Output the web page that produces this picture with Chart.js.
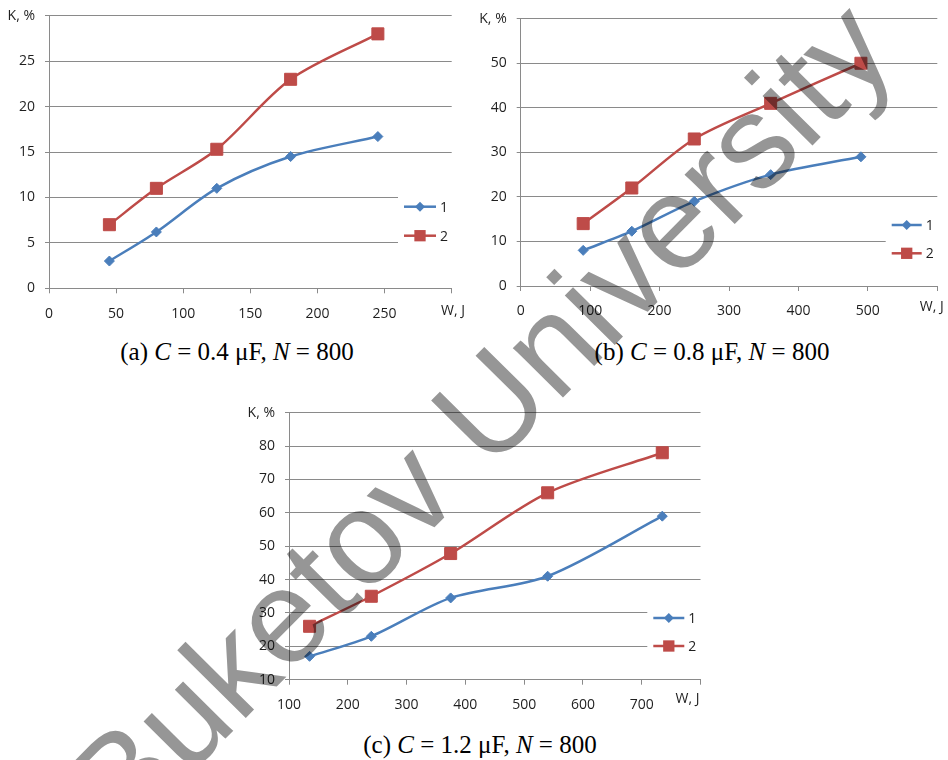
<!DOCTYPE html>
<html>
<head>
<meta charset="utf-8">
<script src="https://cdn.jsdelivr.net/npm/chart.js@4.4.1/dist/chart.umd.min.js"></script>
<style>
html,body{margin:0;padding:0;background:#fff;}
body{width:948px;height:760px;position:relative;overflow:hidden;}
canvas.chart{position:absolute;}
.cap{position:absolute;font-family:"Liberation Serif","Times New Roman",serif;font-size:25px;line-height:28px;color:#000;text-align:center;white-space:nowrap;}
.cap i{font-style:italic;}
#wm{position:absolute;left:0;top:0;mix-blend-mode:multiply;pointer-events:none;}
</style>
</head>
<body>
<canvas id="ca" class="chart" width="470" height="335" style="left:0;top:0;"></canvas>
<canvas id="cb" class="chart" width="478" height="335" style="left:470px;top:0;"></canvas>
<canvas id="cc" class="chart" width="480" height="330" style="left:230px;top:390px;"></canvas>
<div class="cap" style="left:87px;top:338px;width:300px;">(a) <i>C</i> = 0.4 μF, <i>N</i> = 800</div>
<div class="cap" style="left:562px;top:338px;width:300px;">(b) <i>C</i> = 0.8 μF, <i>N</i> = 800</div>
<div class="cap" style="left:330px;top:731px;width:300px;">(c) <i>C</i> = 1.2 μF, <i>N</i> = 800</div>
<canvas id="wm" width="948" height="760"></canvas>
<script>
// ---------- data ----------
const seriesNames = ['1', '2'];

const a_W  = [45, 80, 125, 180, 245];
const a_K1 = [3, 6.2, 11, 14.5, 16.7];
const a_K2 = [7, 11, 15.3, 23, 28];
const a_xTicks = ['0', '50', '100', '150', '200', '250', ''];
const a_yTicks = ['0', '5', '10', '15', '20', '25', 'K, %'];

const b_W  = [90, 160, 250, 360, 490];
const b_K1 = [8, 12.3, 19, 25, 29];
const b_K2 = [14, 22, 33, 41, 50];
const b_xTicks = ['0', '100', '200', '300', '400', '500', ''];
const b_yTicks = ['0', '10', '20', '30', '40', '50', 'K, %'];

const c_W  = [135, 240, 375, 540, 735];
const c_K1 = [17, 23, 34.5, 41, 59];
const c_K2 = [26, 35, 47.8, 66, 78];
const c_xTicks = ['100', '200', '300', '400', '500', '600', '700', ''];
const c_yTicks = ['10', '20', '30', '40', '50', '60', '70', '80', 'K, %'];

const xAxisTitle = 'W, J';

// ---------- style ----------
const BLUE = '#4a7ebb', RED = '#be4b48', GRID = '#8a8a8a', TXT = '#1f1f1f';
const FONT = '"Open Sans", "DejaVu Sans", sans-serif';
Chart.defaults.font.family = FONT;
Chart.defaults.font.size = 14;
Chart.defaults.color = TXT;

function drawMarker(ctx, style, x, y, r, color) {
  ctx.fillStyle = color;
  ctx.beginPath();
  if (style === 'rectRot') {
    ctx.moveTo(x - r, y); ctx.lineTo(x, y - r); ctx.lineTo(x + r, y); ctx.lineTo(x, y + r);
  } else {
    const s = r * Math.SQRT1_2;
    ctx.rect(x - s, y - s, 2 * s, 2 * s);
  }
  ctx.closePath();
  ctx.fill();
}

const boxLegend = {
  id: 'boxLegend',
  afterDraw(chart, args, o) {
    const ctx = chart.ctx, ca = chart.chartArea;
    ctx.save();
    ctx.fillStyle = '#fff';
    ctx.fillRect(o.x - 6, o.y - 16, ca.right + 4 - (o.x - 6), o.gap + 32);
    chart.data.datasets.forEach((ds, i) => {
      const y = o.y + i * o.gap;
      ctx.strokeStyle = ds.borderColor;
      ctx.lineWidth = ds.borderWidth;
      ctx.beginPath(); ctx.moveTo(o.x, y); ctx.lineTo(o.x + o.len, y); ctx.stroke();
      drawMarker(ctx, ds.pointStyle, o.x + o.len / 2, y, ds.pointStyle === 'rect' ? 8 : 5, ds.backgroundColor);
      ctx.fillStyle = TXT;
      ctx.font = '14px ' + FONT;
      ctx.textAlign = 'left';
      ctx.textBaseline = 'middle';
      ctx.fillText(ds.label, o.x + o.len + 4, y + 1);
    });
    ctx.font = '14px ' + FONT;
    ctx.fillStyle = TXT;
    ctx.textAlign = 'center';
    ctx.textBaseline = 'middle';
    ctx.fillText(o.title, o.tx, o.ty);
    ctx.restore();
  }
};

function makeChart(id, W, K1, K2, xTicks, yTicks, ax, box) {
  const pts = (ys) => W.map((w, i) => ({ x: w, y: ys[i] }));
  return new Chart(document.getElementById(id), {
    type: 'line',
    data: {
      datasets: [
        { label: seriesNames[0], data: pts(K1), borderColor: BLUE, backgroundColor: BLUE,
          borderWidth: 2.5, pointStyle: 'rectRot', pointRadius: 5, pointBorderWidth: 1,
          pointBorderColor: BLUE, pointBackgroundColor: BLUE, tension: 0.3 },
        { label: seriesNames[1], data: pts(K2), borderColor: RED, backgroundColor: RED,
          borderWidth: 2.5, pointStyle: 'rect', pointRadius: 8.5, pointBorderWidth: 1,
          pointBorderColor: RED, pointBackgroundColor: RED, tension: 0.3 }
      ]
    },
    options: {
      responsive: false,
      animation: false,
      events: [],
      layout: { padding: { left: 0, right: box.padR, top: box.padT, bottom: 0 } },
      plugins: {
        legend: { display: false },
        tooltip: { enabled: false },
        boxLegend: box.legend
      },
      scales: {
        x: {
          type: 'linear', min: ax.xmin, max: ax.xmax,
          ticks: { stepSize: ax.xstep, padding: 12, maxRotation: 0, autoSkip: false,
                   callback: (v, i) => xTicks[i] },
          grid: { drawOnChartArea: false, drawTicks: true, tickLength: 5, color: GRID, lineWidth: 1 },
          border: { display: true, color: GRID, width: 1 },
          afterFit: (s) => { s.height = box.xH; s.paddingLeft = 0; s.paddingRight = 0; }
        },
        y: {
          type: 'linear', min: ax.ymin, max: ax.ymax,
          ticks: { stepSize: ax.ystep, padding: 10, autoSkip: false,
                   callback: (v, i) => yTicks[i] },
          grid: { drawOnChartArea: true, drawTicks: true, tickLength: 4, color: GRID, lineWidth: 1 },
          border: { display: true, color: GRID, width: 1 },
          afterFit: (s) => { s.width = box.yW; s.paddingTop = 0; s.paddingBottom = 0; }
        }
      }
    },
    plugins: [boxLegend]
  });
}

makeChart('ca', a_W, a_K1, a_K2, a_xTicks, a_yTicks,
  { xmin: 0, xmax: 300, xstep: 50, ymin: 0, ymax: 30, ystep: 5 },
  { yW: 49, xH: 46.7, padR: 18.3, padT: 15.7,
    legend: { x: 404, y: 206.7, gap: 29, len: 32, title: xAxisTitle, tx: 453, ty: 311.5 } });

makeChart('cb', b_W, b_K1, b_K2, b_xTicks, b_yTicks,
  { xmin: 0, xmax: 600, xstep: 100, ymin: 0, ymax: 60, ystep: 10 },
  { yW: 50.7, xH: 49, padR: 10.7, padT: 18.7,
    legend: { x: 421.7, y: 225, gap: 28.3, len: 30, title: xAxisTitle, tx: 461.7, ty: 307.5 } });

makeChart('cc', c_W, c_K1, c_K2, c_xTicks, c_yTicks,
  { xmin: 100, xmax: 800, xstep: 100, ymin: 10, ymax: 90, ystep: 10 },
  { yW: 59, xH: 40.3, padR: 8.7, padT: 22.7,
    legend: { x: 423.3, y: 228, gap: 28, len: 31, title: xAxisTitle, tx: 457.5, ty: 309 } });

// ---------- watermark ----------
const wm = document.getElementById('wm').getContext('2d');
wm.translate(125, 840);
wm.rotate(-45.3 * Math.PI / 180);
wm.font = '133px "Liberation Sans", Arial, sans-serif';
wm.fillStyle = '#969696';
wm.textBaseline = 'alphabetic';
wm.fillText('Buketov University', 0, 0);
</script>
</body>
</html>
